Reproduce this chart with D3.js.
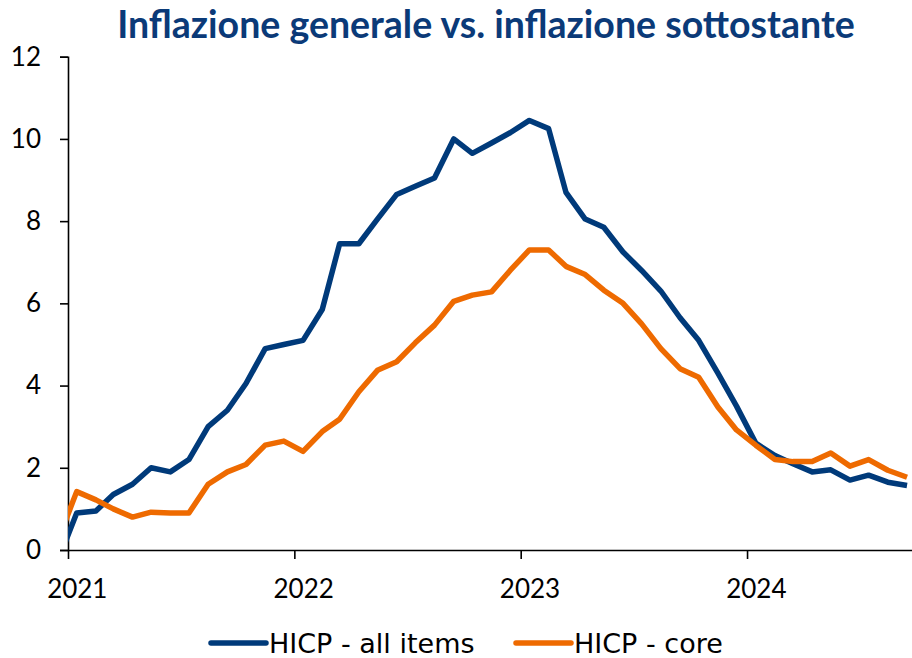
<!DOCTYPE html>
<html lang="it">
<head>
  <meta charset="UTF-8">
  <title>Inflazione generale vs. inflazione sottostante</title>
  <script src="https://d3js.org/d3.v7.min.js"></script>
  <style>
    body {
      margin: 0;
      background-color: #ffffff;
      font-family: 'Lato', sans-serif;
    }
    svg {
      display: block;
    }
    .title {
      font-family: 'Lato', sans-serif;
      font-weight: 700;
      font-size: 37.5px;
      fill: #0b3a78;
    }
    .axis path, .axis line {
      stroke: #000;
      stroke-width: 1.6px;
    }
    .axis text {
      font-family: 'Lato', sans-serif;
      font-size: 26px;
      fill: #000;
    }
    .series {
      fill: none;
      stroke-width: 5.5px;
      stroke-linejoin: round;
    }
    .legend text {
      font-family: 'DejaVu Sans', sans-serif;
      font-size: 27px;
      fill: #000;
    }
  </style>
</head>
<body>
  <svg width="912" height="658"></svg>
  <script>
    // monthly readings, Dec 2020 .. Sep 2024 (y/y %)
    const firstMonth = new Date(2020, 11, 15);
    const headline = [
      -0.3,
      0.9, 0.95, 1.35, 1.6, 2.0, 1.9, 2.2, 3.0, 3.4, 4.05, 4.9, 5.0,
      5.1, 5.85, 7.45, 7.45, 8.05, 8.65, 8.85, 9.05, 10.0, 9.65, 9.9, 10.15,
      10.45, 10.25, 8.7, 8.05, 7.85, 7.25, 6.8, 6.3, 5.65, 5.1, 4.3, 3.5,
      2.6, 2.3, 2.1, 1.9, 1.95, 1.7, 1.82, 1.65, 1.57
    ];
    const core = [
      0.2,
      1.42, 1.22, 1.0, 0.8, 0.92, 0.9, 0.9, 1.6, 1.9, 2.08, 2.55, 2.65,
      2.4, 2.88, 3.18, 3.85, 4.37, 4.58, 5.04, 5.47, 6.05, 6.2, 6.28, 6.8,
      7.3, 7.3, 6.9, 6.7, 6.32, 6.0, 5.5, 4.9, 4.41, 4.2, 3.48, 2.92,
      2.55, 2.2, 2.15, 2.15, 2.36, 2.04, 2.2, 1.94, 1.77
    ];
    const seriesNames = ["HICP - all items", "HICP - core"];
    const seriesColors = ["#003a7a", "#ee6a00"];
    const yTicks = [0, 2, 4, 6, 8, 10, 12];
    const yearLabels = ["2021", "2022", "2023", "2024"];

    const months = d3.range(headline.length).map(i => d3.timeMonth.offset(firstMonth, i));

    const svg = d3.select("svg");
    const plotLeft = 68, plotRight = 912, plotTop = 56.7, plotBottom = 550;

    const x = d3.scaleTime()
      .domain([new Date(2021, 0, 1), new Date(2024, 8, 23)])
      .range([plotLeft, plotRight]);
    const y = d3.scaleLinear().domain([0, 12]).range([plotBottom, plotTop]);

    svg.append("text")
      .attr("class", "title")
      .attr("x", 486)
      .attr("y", 38)
      .attr("text-anchor", "middle")
      .text("Inflazione generale vs. inflazione sottostante");

    svg.append("defs").append("clipPath").attr("id", "plot")
      .append("rect")
      .attr("x", plotLeft).attr("y", 0)
      .attr("width", plotRight - plotLeft).attr("height", plotBottom + 10);

    // y axis
    svg.append("g")
      .attr("class", "axis")
      .attr("transform", `translate(${plotLeft},0)`)
      .call(d3.axisLeft(y).tickValues(yTicks).tickSize(8).tickSizeOuter(8).tickPadding(19));

    // x axis: ticks at year start, labels at mid-January
    const yearStarts = yearLabels.map(s => new Date(+s, 0, 1));
    svg.append("g")
      .attr("class", "axis")
      .attr("transform", `translate(0,${plotBottom})`)
      .call(d3.axisBottom(x).tickValues(yearStarts).tickSize(9).tickSizeOuter(0).tickFormat(""));

    svg.append("g")
      .attr("class", "axis")
      .selectAll("text")
      .data(yearLabels)
      .enter()
      .append("text")
      .attr("x", d => x(new Date(+d, 0, 16)))
      .attr("y", 598)
      .attr("text-anchor", "middle")
      .text(d => d);

    const line = d3.line()
      .x((d, i) => x(months[i]))
      .y(d => y(d));

    const plot = svg.append("g").attr("clip-path", "url(#plot)");
    [headline, core].forEach((vals, k) => {
      plot.append("path")
        .attr("class", "series")
        .attr("stroke", seriesColors[k])
        .attr("d", line(vals));
    });

    // legend
    const legend = svg.append("g").attr("class", "legend");
    const legendX = [211, 516];
    seriesNames.forEach((name, k) => {
      const g = legend.append("g").attr("transform", `translate(${legendX[k]},643)`);
      g.append("line")
        .attr("x1", 0).attr("x2", 55)
        .attr("stroke", seriesColors[k])
        .attr("stroke-width", 5.5)
        .attr("stroke-linecap", "round");
      g.append("text")
        .attr("x", 58)
        .attr("y", 10)
        .text(name);
    });
  </script>
</body>
</html>
